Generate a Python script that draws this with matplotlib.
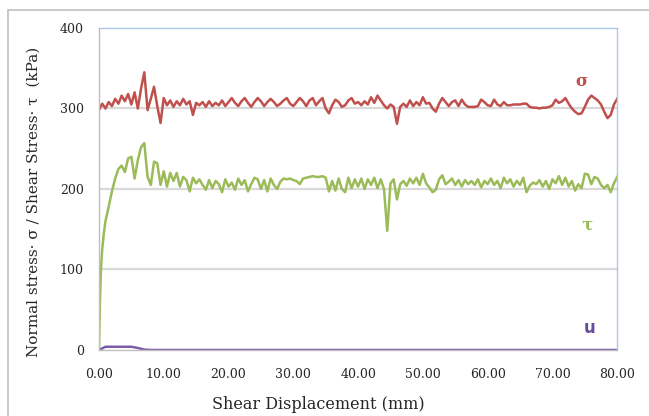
import numpy as np
import matplotlib
matplotlib.use("Agg")
import matplotlib.pyplot as plt
from matplotlib.patches import Rectangle

# --- Data ---
# shear displacement grid (mm) for sigma
disp = np.arange(0, 80.5, 0.5)

sigma = [
    298, 306, 300, 308, 303, 312, 306, 316, 309, 318,  # 0.0 - 4.5
    305, 320, 300, 325, 345, 298, 312, 327, 303, 282,  # 5.0 - 9.5
    313, 304, 310, 302, 309, 304, 312, 305, 309, 292,  # 10.0 - 14.5
    307, 304, 308, 302, 309, 303, 307, 304, 310, 303,  # 15.0 - 19.5
    308, 313, 307, 303, 309, 313, 307, 302, 308, 313,  # 20.0 - 24.5
    309, 303, 308, 312, 308, 303, 306, 310, 313, 306,  # 25.0 - 29.5
    303, 308, 313, 309, 303, 310, 313, 304, 309, 313,  # 30.0 - 34.5
    300, 294, 304, 311, 308, 302, 304, 310, 313, 306,  # 35.0 - 39.5
    308, 304, 309, 305, 314, 307, 316, 310, 304, 300,  # 40.0 - 44.5
    305, 302, 281, 302, 306, 302, 310, 303, 308, 304,  # 45.0 - 49.5
    314, 306, 307, 300, 296, 306, 313, 308, 303, 308,  # 50.0 - 54.5
    310, 303, 311, 305, 302, 302, 302, 303, 311, 308,  # 55.0 - 59.5
    304, 303, 311, 305, 303, 308, 304, 304, 305, 305,  # 60.0 - 64.5
    305, 306, 306, 302, 301, 301, 300, 301, 301, 302,  # 65.0 - 69.5
    304, 311, 307, 309, 313, 306, 300, 296, 293, 294,  # 70.0 - 74.5
    302, 311, 316, 313, 310, 305, 296, 288, 292, 305,  # 75.0 - 79.5
    312,                                               # 80.0
]

# tau has a steep initial rise, so a few extra points at the start
tau_disp = np.concatenate([[0.0, 0.15, 0.3, 0.5, 0.75, 1.0], np.arange(1.5, 80.5, 0.5)])
tau = [
    0, 60, 100, 125, 145, 160,                          # 0.0 - 1.0
    178, 197, 213, 225, 229, 221, 238, 240,             # 1.5 - 5.0
    213, 236, 252, 257, 215, 205, 234, 232, 205, 222,  # 5.5 - 10.0
    203, 220, 210, 220, 203, 215, 211, 197, 214, 207,  # 10.5 - 15.0
    212, 205, 199, 211, 201, 210, 206, 196, 212, 203,  # 15.5 - 20.0
    208, 199, 213, 205, 211, 197, 206, 214, 212, 200,  # 20.5 - 25.0
    211, 197, 213, 205, 200, 209, 213, 212, 213, 211,  # 25.5 - 30.0
    210, 206, 213, 214, 215, 216, 215, 215, 216, 214,  # 30.5 - 35.0
    197, 210, 198, 213, 200, 196, 214, 201, 212, 203,  # 35.5 - 40.0
    213, 200, 212, 205, 214, 201, 212, 200, 148, 207,  # 40.5 - 45.0
    212, 187, 206, 210, 204, 213, 207, 214, 205, 219,  # 45.5 - 50.0
    207, 202, 196, 199, 212, 217, 206, 209, 213, 205,  # 50.5 - 55.0
    211, 203, 211, 206, 210, 205, 212, 202, 210, 206,  # 55.5 - 60.0
    213, 205, 210, 201, 214, 207, 212, 203, 210, 205,  # 60.5 - 65.0
    214, 196, 204, 208, 206, 211, 203, 210, 200, 212,  # 65.5 - 70.0
    207, 216, 205, 214, 203, 210, 198, 206, 201, 219,  # 70.5 - 75.0
    218, 206, 215, 213, 205, 201, 205, 196, 207, 215,  # 75.5 - 80.0
]

u_disp = [0, 0.5, 1.0, 2.0, 3.0, 4.0, 5.0, 6.0, 7.0, 8.0, 80.0]
u = [0, 2, 4, 4, 4, 4, 4, 2.5, 0.5, 0, 0]

x_ticks = [0, 10, 20, 30, 40, 50, 60, 70, 80]
y_ticks = [0, 100, 200, 300, 400]

# --- Styling ---
RED = "#c0504d"
GREEN = "#9bbb59"
PURPLE = "#7f5ca8"
TEXT = "#262626"
plt.rcParams["font.family"] = ["DejaVu Serif"]

fig = plt.figure(figsize=(6.49, 4.16), dpi=100)
ax = fig.add_axes([0.1525, 0.1587, 0.7985, 0.774])

ax.plot(disp, sigma, color=RED, lw=1.8)
ax.plot(tau_disp, tau, color=GREEN, lw=1.8)
ax.plot(u_disp, u, color=PURPLE, lw=1.8)

ax.set_xlim(0, 80)
ax.set_ylim(0, 400)
ax.set_xticks(x_ticks)
ax.set_xticklabels([f"{v:.2f}" for v in x_ticks])
ax.set_yticks(y_ticks)
ax.tick_params(length=0, labelsize=9, colors=TEXT)
ax.tick_params(axis="x", pad=13)
ax.tick_params(axis="y", pad=11)

for y in [100, 200, 300]:
    ax.axhline(y, color="#d9d9d9", lw=1.6, zorder=0)

ax.spines["left"].set_color("#bfbfbf")
ax.spines["bottom"].set_color("#bfbfbf")
ax.spines["top"].set_color("#a9c8ea")
ax.spines["right"].set_color("#a9c8ea")
for s in ax.spines.values():
    s.set_linewidth(1.0)

ax.set_xlabel("Shear Displacement (mm)", fontsize=11.5, color=TEXT)
ax.xaxis.set_label_coords(0.423, -0.143)
ax.set_ylabel("Normal stress\u00b7 \u03c3 / Shear Stress\u00b7 \u03c4  (kPa)",
              fontsize=11, color=TEXT)
ax.yaxis.set_label_coords(-0.113, 0.46)

ax.text(74.5, 333, "\u03c3", color=RED, fontsize=12, fontweight="bold", ha="center", va="center")
ax.text(75.3, 155, "\u03c4", color=GREEN, fontsize=12, fontweight="bold", ha="center", va="center")
ax.text(75.8, 27, "u", color="#6a4a9c", fontsize=12, fontweight="bold",
        family=["DejaVu Sans"], ha="center", va="center")

# outer chart border (only left/top edges visible in the reference)
fig.patches.append(Rectangle((0.0116, -0.05), 1.1, 0.026 + 1.0, transform=fig.transFigure,
                             fill=False, edgecolor="#bfbfbf", lw=1.2, clip_on=False))

fig.savefig("out.png", dpi=100)
